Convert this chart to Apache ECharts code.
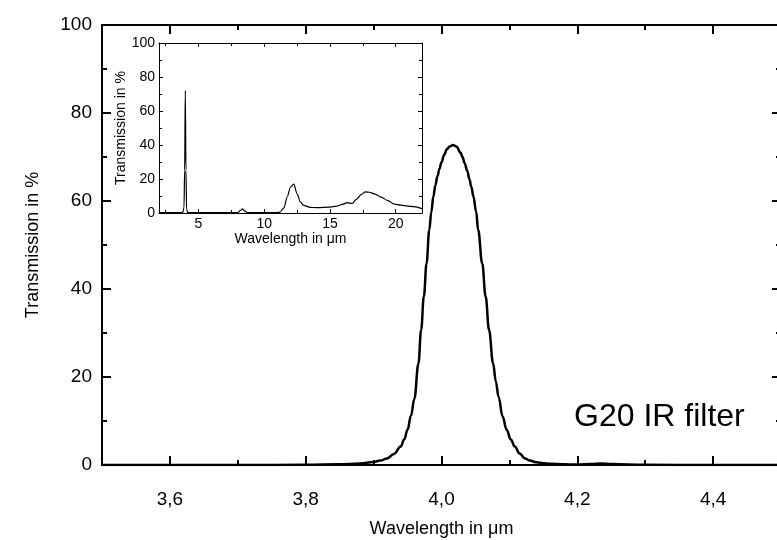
<!DOCTYPE html>
<html>
<head>
<meta charset="utf-8">
<script src="https://cdn.jsdelivr.net/npm/echarts@6/dist/echarts.min.js"></script>
<style>html,body{margin:0;padding:0;background:#fff}#c{width:777px;height:540px}</style>
</head>
<body>
<div id="c"></div>
<script>
// Main chart data (wavelength in µm, transmission in %)
const mainX = [3.50,3.60,3.70,3.80,3.85,3.88,3.90,3.91,3.92,3.93,3.94,3.945,3.95,3.955,3.96,3.966,3.970,3.974,3.978,3.982,3.985,3.988,3.991,3.994,3.997,4.000,4.004,4.008,4.012,4.017,4.022,4.028,4.031,4.034,4.038,4.041,4.044,4.047,4.051,4.054,4.060,4.065,4.070,4.076,4.080,4.084,4.090,4.096,4.102,4.108,4.115,4.123,4.13,4.14,4.15,4.16,4.18,4.20,4.22,4.235,4.25,4.30,4.40,4.50];
const mainY = [0,0,0,0.05,0.15,0.35,0.7,1.0,1.5,2.5,4.2,5.8,8,11.2,15,23,30.7,38.3,45.8,53.4,57.5,61,63.6,65.6,67.3,68.8,70.5,71.8,72.4,72.7,72.4,71.0,70.0,68.6,66.8,65,63.2,61,57.6,53.4,45.8,38.3,30.7,23.1,19,15.5,11,8,5.8,4.2,2.6,1.5,1.0,0.6,0.4,0.3,0.15,0.1,0.2,0.35,0.2,0.05,0,0];
// Inset data
const insetX = [2,3,3.8,3.9,3.95,4.0,4.05,4.1,4.2,5,6,7,7.5,8.0,8.2,8.35,8.5,8.7,9,10,11,11.2,11.5,11.75,12.0,12.25,12.5,12.75,13.0,13.5,14,15,15.5,16.0,16.3,16.7,17.0,17.4,17.7,18.0,18.4,18.9,19.4,19.9,20.4,20.9,21.4,22];
const insetY = [0.3,0.2,0.2,3,25,72,25,2,0.2,0.2,0.2,0.2,0.2,0.3,1.5,2.5,1.2,0.3,0.2,0.2,0.2,0.5,3,9.5,15.3,17,11.4,6.5,4.5,3.3,3.2,3.5,4,5.2,6.1,5.6,8,11,12.4,12.2,11.2,9.3,7.3,5.2,4.6,4.1,3.8,2.6];
// Tick values
const mainMajorX = [3.6,3.8,4.0,4.2,4.4];
const mainMinorX = [3.7,3.9,4.1,4.3];
const insetMajorX = [5,10,15,20];
const insetMinorX = [2.5,7.5,12.5,17.5];

const FONT = 'Liberation Sans, Arial, sans-serif';
const mainData = mainX.map((x,i)=>[x,mainY[i]]);
const insetData = insetX.map((x,i)=>[x,insetY[i]]);

function xAx(grid, min, max, pos, ticks, len, w, showLabel, fs, margin, name, nameGap, showLine, nfs){
  return {
    type:'value', gridIndex:grid, min:min, max:max, position:pos,
    name: name||'', nameLocation:'middle', nameGap:nameGap||0,
    nameTextStyle:{fontFamily:FONT, fontSize:nfs||fs, color:'#000'},
    axisLine:{show:showLine, onZero:false, lineStyle:{color:'#000', width:w}},
    axisTick:{show:true, inside:true, length:len, customValues:ticks, lineStyle:{color:'#000', width:w}},
    axisLabel:{show:showLabel, customValues:ticks, margin:margin, fontFamily:FONT, fontSize:fs, color:'#000',
      formatter:v=>String(v.toFixed(grid===0?1:0)).replace('.',',')},
    splitLine:{show:false}
  };
}
function yAx(grid, pos, len, mlen, w, showLabel, fs, margin, name, nameGap, nfs, showLine){
  return {
    type:'value', gridIndex:grid, min:0, max:100, interval:20, position:pos,
    name:name||'', nameLocation:'middle', nameGap:nameGap||0,
    nameTextStyle:{fontFamily:FONT, fontSize:nfs||fs, color:'#000'},
    axisLine:{show:showLine!==false, lineStyle:{color:'#000', width:w}},
    axisTick:{show:true, inside:true, length:len, lineStyle:{color:'#000', width:w}},
    minorTick:{show:true, splitNumber:2, length:mlen, lineStyle:{color:'#000', width:w}},
    axisLabel:{show:showLabel, margin:margin, fontFamily:FONT, fontSize:fs, color:'#000'},
    splitLine:{show:false}, minorSplitLine:{show:false}
  };
}

const chart = echarts.init(document.getElementById('c'), null, {renderer:'canvas'});
chart.setOption({
  animation:false,
  backgroundColor:'#fff',
  grid:[
    {left:102, top:25, width:679, height:440, containLabel:false, outerBoundsMode:'none'},
    {left:159, top:43, width:263, height:170, containLabel:false, outerBoundsMode:'none', show:true, backgroundColor:'#fff', borderWidth:0, z:5}
  ],
  xAxis:[
    xAx(0,3.5,4.5,'bottom',mainMajorX,9,2,true,19,25,'Wavelength in μm',55,true,18),
    xAx(0,3.5,4.5,'bottom',mainMinorX,5,2,false,19,0,'',0,false),
    xAx(0,3.5,4.5,'top',mainMajorX,9,2,false,19,0,'',0,true),
    xAx(0,3.5,4.5,'top',mainMinorX,5,2,false,19,0,'',0,false),
    Object.assign(xAx(1,2,22,'bottom',insetMajorX,4,1,true,14,4,'Wavelength in μm',19,true),{z:6}),
    Object.assign(xAx(1,2,22,'bottom',insetMinorX,3,1,false,14,0,'',0,false),{z:6}),
    Object.assign(xAx(1,2,22,'top',insetMajorX,4,1,false,14,0,'',0,true),{z:6}),
    Object.assign(xAx(1,2,22,'top',insetMinorX,3,1,false,14,0,'',0,false),{z:6})
  ],
  yAxis:[
    yAx(0,'left',9,5,2,true,19,10,'Transmission in %',60,18),
    yAx(0,'right',9,5,2,false,19,0,'',0,18),
    Object.assign(yAx(1,'left',4,3,1,true,14,4,'Transmission in %',28,14),{z:6}),
    Object.assign(yAx(1,'right',4,3,1,false,14,0,'',0),{z:6})
  ],
  series:[
    {type:'line', xAxisIndex:0, yAxisIndex:0, data:mainData, showSymbol:false, smooth:0.4, smoothMonotone:'x',
     lineStyle:{color:'#000', width:2.5}, z:3},
    {type:'line', xAxisIndex:4, yAxisIndex:2, data:insetData, showSymbol:false, smooth:0.3, smoothMonotone:'x',
     lineStyle:{color:'#000', width:1.2}, z:7}
  ],
  graphic:[
    {type:'text', left:574, top:401, z:10, style:{text:'G20 IR filter', fontFamily:FONT, fontSize:32, fill:'#000'}}
  ]
});
</script>
</body>
</html>
